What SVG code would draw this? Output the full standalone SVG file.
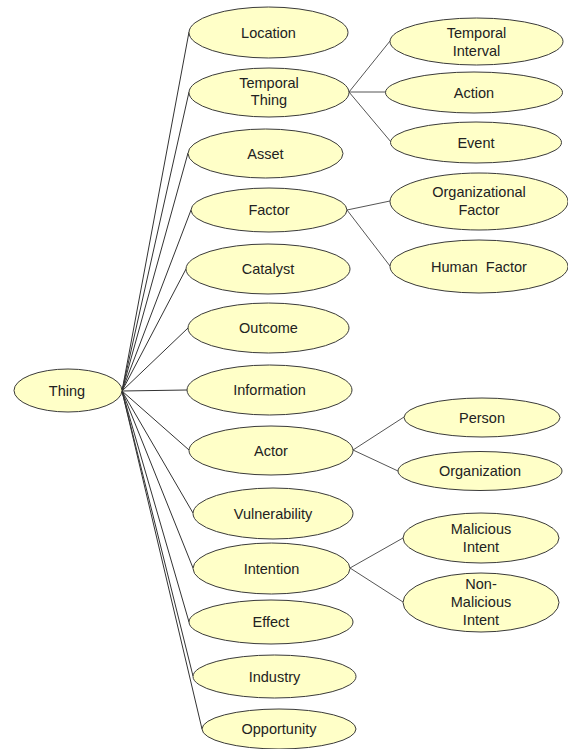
<svg xmlns="http://www.w3.org/2000/svg" width="568" height="749" viewBox="0 0 568 749">
<style>
.n ellipse{fill:#FFFFC8;stroke:#3a3a3a;stroke-width:1}
.n text{font-family:"Liberation Sans",Arial,sans-serif;font-size:14.5px;fill:#222;text-anchor:middle}
#edges line{stroke:#333;stroke-width:1}
#edges .c{stroke:#555}
</style>
<rect width="568" height="749" fill="#fff"/>
<g id="edges">
<line x1="122" y1="391" x2="189" y2="32"/>
<line x1="122" y1="391" x2="189" y2="92"/>
<line x1="122" y1="391" x2="188" y2="153"/>
<line x1="122" y1="391" x2="191" y2="210"/>
<line x1="122" y1="391" x2="186" y2="269"/>
<line x1="122" y1="391" x2="188" y2="328"/>
<line x1="122" y1="391" x2="187" y2="390"/>
<line x1="122" y1="391" x2="189" y2="450"/>
<line x1="122" y1="391" x2="193" y2="513"/>
<line x1="122" y1="391" x2="193" y2="568"/>
<line x1="122" y1="391" x2="189" y2="622"/>
<line x1="122" y1="391" x2="193" y2="676"/>
<line x1="122" y1="391" x2="202" y2="729"/>
<line class="c" x1="349" y1="92" x2="390" y2="41"/>
<line class="c" x1="349" y1="92" x2="386" y2="92"/>
<line class="c" x1="349" y1="92" x2="391" y2="142"/>
<line class="c" x1="347" y1="210" x2="390" y2="201"/>
<line class="c" x1="347" y1="210" x2="390" y2="266"/>
<line class="c" x1="353" y1="450" x2="404" y2="417"/>
<line class="c" x1="353" y1="450" x2="398" y2="471"/>
<line class="c" x1="350" y1="568" x2="403" y2="538"/>
<line class="c" x1="350" y1="568" x2="403" y2="602"/>
</g>
<g id="thing" class="n"><ellipse cx="68" cy="390.5" rx="54" ry="21.5"/><text x="67" y="396">Thing</text></g>
<g id="location" class="n"><ellipse cx="268.5" cy="32.5" rx="79.5" ry="25.5"/><text x="268.5" y="38">Location</text></g>
<g id="temporal-thing" class="n"><ellipse cx="269" cy="92.5" rx="80" ry="24.5"/><text x="269" y="88">Temporal</text><text x="269" y="105">Thing</text></g>
<g id="asset" class="n"><ellipse cx="265.5" cy="153.5" rx="77.5" ry="24.5"/><text x="265.5" y="159">Asset</text></g>
<g id="factor" class="n"><ellipse cx="269" cy="210" rx="78" ry="22"/><text x="269" y="215">Factor</text></g>
<g id="catalyst" class="n"><ellipse cx="268" cy="269" rx="82" ry="25"/><text x="268" y="274">Catalyst</text></g>
<g id="outcome" class="n"><ellipse cx="268.5" cy="328" rx="80.5" ry="25"/><text x="268.5" y="333">Outcome</text></g>
<g id="information" class="n"><ellipse cx="269.5" cy="390" rx="82.5" ry="25"/><text x="269.5" y="395">Information</text></g>
<g id="actor" class="n"><ellipse cx="271" cy="450.5" rx="82" ry="24.5"/><text x="271" y="455.5">Actor</text></g>
<g id="vulnerability" class="n"><ellipse cx="273" cy="513.5" rx="80" ry="25.5"/><text x="273" y="518.5">Vulnerability</text></g>
<g id="intention" class="n"><ellipse cx="271.5" cy="568.5" rx="78.5" ry="25.5"/><text x="271.5" y="573.5">Intention</text></g>
<g id="effect" class="n"><ellipse cx="271" cy="622" rx="82" ry="22"/><text x="271" y="627">Effect</text></g>
<g id="industry" class="n"><ellipse cx="274.5" cy="676.5" rx="81.5" ry="21.5"/><text x="274.5" y="681.5">Industry</text></g>
<g id="opportunity" class="n"><ellipse cx="279" cy="729" rx="77" ry="20"/><text x="279" y="734">Opportunity</text></g>
<g id="temporal-interval" class="n"><ellipse cx="476.5" cy="41.5" rx="86.5" ry="23.5"/><text x="476.5" y="38">Temporal</text><text x="476.5" y="56">Interval</text></g>
<g id="action" class="n"><ellipse cx="474" cy="92.5" rx="88.5" ry="20.5"/><text x="474" y="97.5">Action</text></g>
<g id="event" class="n"><ellipse cx="476" cy="142.5" rx="85.5" ry="20.5"/><text x="476" y="147.5">Event</text></g>
<g id="organizational-factor" class="n"><ellipse cx="479" cy="201.5" rx="89" ry="28.5"/><text x="479" y="197">Organizational</text><text x="479" y="215">Factor</text></g>
<g id="human-factor" class="n"><ellipse cx="479" cy="266.5" rx="89" ry="26.5"/><text x="479" y="271.5" xml:space="preserve">Human  Factor</text></g>
<g id="person" class="n"><ellipse cx="482" cy="417.5" rx="78" ry="19.5"/><text x="482" y="422.5">Person</text></g>
<g id="organization" class="n"><ellipse cx="480" cy="471" rx="82" ry="19.5"/><text x="480" y="476">Organization</text></g>
<g id="malicious-intent" class="n"><ellipse cx="481" cy="538" rx="78" ry="25"/><text x="481" y="534">Malicious</text><text x="481" y="552">Intent</text></g>
<g id="non-malicious-intent" class="n"><ellipse cx="481" cy="602.5" rx="78" ry="29.5"/><text x="481" y="589">Non-</text><text x="481" y="607">Malicious</text><text x="481" y="624.5">Intent</text></g>
</svg>
